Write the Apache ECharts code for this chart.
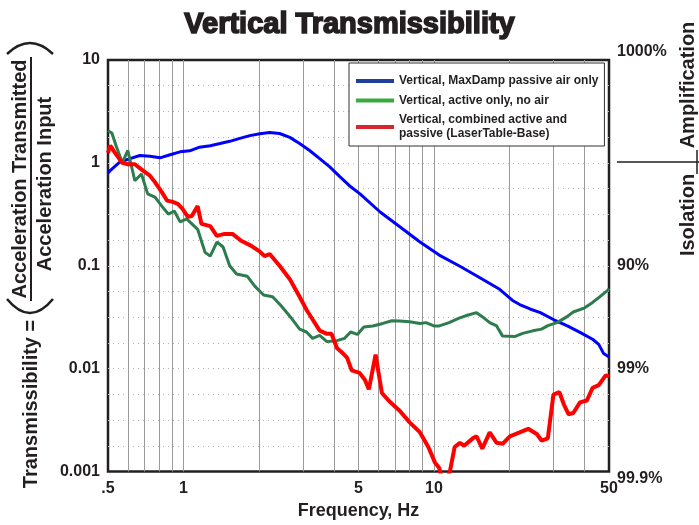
<!DOCTYPE html>
<html><head><meta charset="utf-8">
<script src="https://cdn.jsdelivr.net/npm/echarts@6/dist/echarts.min.js"></script>
<style>html,body{margin:0;padding:0;background:#fff}#c{width:699px;height:525px}</style>
</head><body><div id="c"></div>
<script>
// ---- data ----
const blueFreq = [0.5,0.51,0.558,0.612,0.67,0.735,0.806,0.885,0.97,1.06,1.16,1.28,1.40,1.53,1.68,1.84,2.02,2.21,2.42,2.66,2.91,3.19,3.5,3.83,4.2,4.6,5.07,6.1,7.33,8.8,10.5,12.7,15.2,18.3,20.6,22,24.2,26.6,30,34.1,38.3,43,45.5,47.6,50];
const blueValue = [0.80,0.84,1.02,1.10,1.18,1.16,1.12,1.20,1.28,1.31,1.42,1.47,1.54,1.62,1.73,1.84,1.92,1.97,1.93,1.77,1.54,1.32,1.10,0.92,0.74,0.60,0.50,0.333,0.238,0.170,0.127,0.099,0.077,0.059,0.046,0.042,0.038,0.035,0.030,0.026,0.0225,0.0193,0.0172,0.0140,0.0130];

const greenFreq = [0.5,0.518,0.54,0.57,0.60,0.64,0.68,0.72,0.77,0.82,0.87,0.92,0.97,1.03,1.14,1.22,1.28,1.36,1.44,1.53,1.63,1.80,1.93,2.09,2.27,2.45,2.67,2.91,3.1,3.28,3.5,3.74,4.1,4.4,4.65,4.95,5.25,5.7,6.25,6.8,7.3,8.0,8.8,9.3,10.0,10.5,11.5,12.6,13.6,14.8,15.6,16.7,17.8,18.8,21,22.6,24.8,26.9,28.5,31,34,36,40,43,45,49.5,50];
const greenValue = [2.05,1.95,1.44,1.0,1.32,0.67,0.78,0.50,0.465,0.38,0.318,0.34,0.267,0.285,0.226,0.135,0.124,0.170,0.152,0.100,0.083,0.079,0.063,0.052,0.050,0.041,0.032,0.0242,0.0227,0.0197,0.021,0.0183,0.0187,0.0197,0.0227,0.0215,0.0254,0.026,0.0275,0.0292,0.029,0.0285,0.0275,0.028,0.026,0.026,0.028,0.031,0.033,0.035,0.032,0.028,0.026,0.0207,0.0205,0.022,0.0233,0.0242,0.0262,0.028,0.032,0.0355,0.039,0.044,0.048,0.058,0.060];

const redFreq = [0.5,0.51,0.518,0.53,0.57,0.60,0.64,0.69,0.735,0.77,0.82,0.86,0.90,0.95,0.99,1.04,1.08,1.14,1.18,1.28,1.36,1.46,1.57,1.70,1.86,2.02,2.11,2.21,2.42,2.66,2.91,3.1,3.28,3.5,3.74,3.9,4.1,4.33,4.5,4.7,5.05,5.3,5.5,5.85,6.2,6.7,7.3,8.0,8.8,9.5,10.1,10.5,11.0,11.6,12.1,12.7,13.2,14.3,14.8,15.6,16.7,17.8,18.8,20.1,22,23.8,25.8,26.9,28.5,30,31.7,33,34.5,36,38.3,40.8,43,45.5,48.5,50];
const redValue = [1.25,1.47,1.40,1.28,1.0,0.97,0.97,0.84,0.75,0.65,0.52,0.43,0.42,0.40,0.36,0.30,0.305,0.38,0.255,0.243,0.195,0.204,0.204,0.175,0.157,0.137,0.124,0.13,0.10,0.074,0.050,0.0374,0.030,0.0234,0.0218,0.0218,0.0159,0.0141,0.0128,0.0096,0.0091,0.0078,0.0063,0.0137,0.0058,0.0047,0.0039,0.0030,0.0024,0.00173,0.00122,0.00108,0.0007,0.00102,0.00173,0.0019,0.00178,0.0021,0.0022,0.00167,0.0024,0.0019,0.00186,0.0022,0.0024,0.0026,0.0023,0.0020,0.0021,0.0056,0.0059,0.0045,0.0036,0.0037,0.0047,0.0049,0.0065,0.0069,0.0086,0.0084];

const seriesNames = ['Vertical, MaxDamp passive air only','Vertical, active only, no air','Vertical, combined active and\npassive (LaserTable-Base)'];

// tick labels
const xTickValues = [0.5,1,5,10,50];
const xTickLabels = ['.5','1','5','10','50'];
const xGridValues = [0.6,0.7,0.8,0.9,1,2,3,4,5,6,7,8,9,10,20,30,40];
const yLeftTickValues = [0.001,0.01,0.1,1,10];
const yLeftTickLabels = ['0.001','0.01','0.1','1','10'];
const yRightTickValues = [0.001,0.01,0.1,10];
const yRightTickLabels = ['99.9%','99%','90%','1000%'];
const yGridExponents = [-2.75,-2.5,-2.25,-2,-1.75,-1.5,-1.25,-1,-0.75,-0.5,-0.25,0,0.25,0.5,0.75];

// ---- build ----
const yGridValues = yGridExponents.map(e => Math.pow(10, e));
const zip = (a, b) => a.map((v, i) => [v, b[i]]);
const INK = '#231f20';
const FONT = '"Liberation Sans", Arial, Helvetica, sans-serif';
function findLabel(v, vals, labels) {
  for (let i = 0; i < vals.length; i++) {
    if (Math.abs(Math.log10(v) - Math.log10(vals[i])) < 1e-6) return labels[i];
  }
  return '';
}
const lblStyle = {fontSize: 16, fontWeight: 'bold', color: INK, fontFamily: FONT};

const chart = echarts.init(document.getElementById('c'), null, {renderer: 'canvas'});
chart.setOption({
  animation: false,
  backgroundColor: '#fff',
  textStyle: {fontFamily: FONT},
  title: {
    text: 'Vertical Transmissibility', left: 'center', top: 5,
    textStyle: {fontSize: 29, fontWeight: 'bold', color: INK, fontFamily: FONT, textBorderColor: INK, textBorderWidth: 1.6}
  },
  grid: {left: 108, right: 90, top: 60, bottom: 53.5, show: true, borderColor: INK, borderWidth: 2.5, outerBoundsMode: 'none'},
  legend: {
    left: 349, top: 63, orient: 'vertical',
    backgroundColor: '#fff', borderColor: '#333', borderWidth: 1, borderRadius: 0,
    padding: [11, 6, 5, 7], itemGap: 5.5, itemWidth: 38, itemHeight: 4, icon: 'rect',
    textStyle: {fontSize: 12, fontWeight: 'bold', color: INK, lineHeight: 14, fontFamily: FONT},
    data: [
      {name: seriesNames[0], itemStyle: {color: '#1f3f9c'}},
      {name: seriesNames[1], itemStyle: {color: '#3aaa3e'}},
      {name: seriesNames[2], itemStyle: {color: '#d7262e'}}
    ]
  },
  xAxis: {
    type: 'log', logBase: 10, min: 0.5, max: 50,
    axisLine: {show: false},
    axisTick: {show: false, customValues: xGridValues},
    splitLine: {show: true, lineStyle: {color: '#9a9a9a', width: 1}},
    axisLabel: Object.assign({customValues: xTickValues, margin: 9, formatter: v => findLabel(v, xTickValues, xTickLabels)}, lblStyle),
    name: 'Frequency, Hz', nameLocation: 'middle', nameGap: 31,
    nameTextStyle: {fontSize: 18, fontWeight: 'bold', color: INK, fontFamily: FONT}
  },
  yAxis: [
    {
      type: 'log', logBase: 10, min: 0.001, max: 10, position: 'left',
      axisLine: {show: false},
      axisTick: {show: false, customValues: yGridValues},
      splitLine: {show: true, lineStyle: {color: '#b4b4b4', width: 1, type: [1, 4]}},
      axisLabel: Object.assign({customValues: yLeftTickValues, margin: 8, formatter: v => findLabel(v, yLeftTickValues, yLeftTickLabels)}, lblStyle)
    },
    {
      type: 'log', logBase: 10, min: 0.001, max: 10, position: 'right',
      axisLine: {show: false}, axisTick: {show: false, customValues: yRightTickValues}, splitLine: {show: false},
      axisLabel: Object.assign({customValues: yRightTickValues, margin: 8, formatter: v => {
        const s = findLabel(v, yRightTickValues, yRightTickLabels);
        if (v > 1) return '{up|' + s + '}';
        if (v < 0.002) return '{dn|' + s + '}';
        return s;
      }, rich: {
        up: Object.assign({padding: [0, 0, 16, 0]}, lblStyle),
        dn: Object.assign({padding: [14, 0, 0, 0]}, lblStyle)
      }}, lblStyle)
    }
  ],
  series: [
    {name: seriesNames[0], type: 'line', data: zip(blueFreq, blueValue), showSymbol: false, symbol: 'none', lineStyle: {color: '#0000ff', width: 3}, itemStyle: {color: '#0000ff'}, clip: true},
    {name: seriesNames[1], type: 'line', data: zip(greenFreq, greenValue), showSymbol: false, symbol: 'none', lineStyle: {color: '#2c7c4e', width: 3}, itemStyle: {color: '#2c7c4e'}, clip: true},
    {name: seriesNames[2], type: 'line', data: zip(redFreq, redValue), showSymbol: false, symbol: 'none', lineStyle: {color: '#ff0000', width: 4}, itemStyle: {color: '#ff0000'}, clip: true}
  ],
  graphic: [
    {type: 'text', x: 20, y: 179, rotation: Math.PI / 2, style: {text: 'Acceleration Transmitted', font: 'bold 20px ' + FONT, fill: INK, align: 'center', verticalAlign: 'middle'}},
    {type: 'line', shape: {x1: 31, y1: 57, x2: 31, y2: 301}, style: {stroke: INK, lineWidth: 2}},
    {type: 'text', x: 45.5, y: 184, rotation: Math.PI / 2, style: {text: 'Acceleration Input', font: 'bold 20px ' + FONT, fill: INK, align: 'center', verticalAlign: 'middle'}},
    {type: 'text', x: 31, y: 404, rotation: Math.PI / 2, style: {text: 'Transmissibility =', font: 'bold 20px ' + FONT, fill: INK, align: 'center', verticalAlign: 'middle'}},
    {type: 'bezierCurve', shape: {x1: 7, y1: 299, x2: 53, y2: 299, cpx1: 30, cpy1: 327}, style: {stroke: INK, lineWidth: 2.5, fill: null}},
    {type: 'bezierCurve', shape: {x1: 7, y1: 54, x2: 53, y2: 54, cpx1: 30, cpy1: 32}, style: {stroke: INK, lineWidth: 2.5, fill: null}},
    {type: 'text', x: 688, y: 85, rotation: Math.PI / 2, style: {text: 'Amplification', font: 'bold 20px ' + FONT, fill: INK, align: 'center', verticalAlign: 'middle'}},
    {type: 'text', x: 688, y: 215, rotation: Math.PI / 2, style: {text: 'Isolation', font: 'bold 20px ' + FONT, fill: INK, align: 'center', verticalAlign: 'middle'}},
    {type: 'line', shape: {x1: 617, y1: 162, x2: 699, y2: 162}, style: {stroke: INK, lineWidth: 1.5}},
    {type: 'line', shape: {x1: 697, y1: 150, x2: 697, y2: 174}, style: {stroke: INK, lineWidth: 1.5}}
  ]
});
</script>
</body></html>
